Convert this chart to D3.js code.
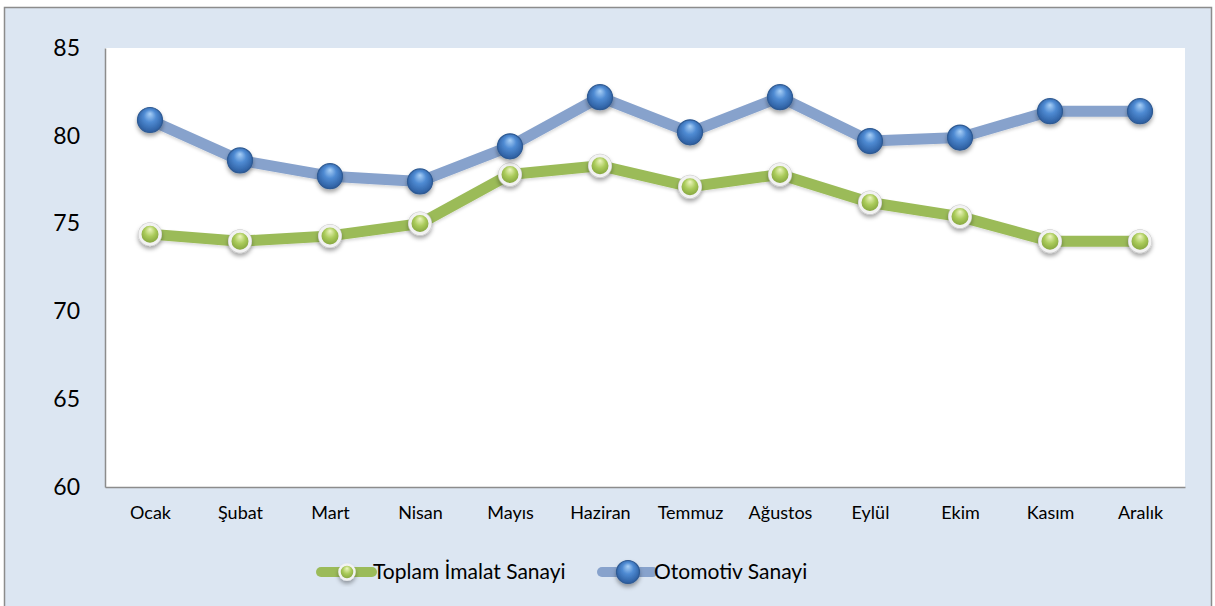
<!DOCTYPE html>
<html>
<head>
<meta charset="utf-8">
<script src="https://cdn.jsdelivr.net/npm/d3@7"></script>
<style>
  body { margin: 0; background: #ffffff; }
  svg { display: block; font-family: Lato, "Open Sans", sans-serif; }
</style>
</head>
<body>
<svg></svg>
<script>
var months = ["Ocak", "Şubat", "Mart", "Nisan", "Mayıs", "Haziran",
  "Temmuz", "Ağustos", "Eylül", "Ekim", "Kasım", "Aralık"];
var toplamImalat = [74.4, 74.0, 74.3, 75.0, 77.8, 78.3, 77.1, 77.8, 76.2, 75.4, 74.0, 74.0];
var otomotiv = [80.9, 78.6, 77.7, 77.4, 79.4, 82.2, 80.2, 82.2, 79.7, 79.9, 81.4, 81.4];
var yTicks = [60, 65, 70, 75, 80, 85];
var seriesNames = ["Toplam İmalat Sanayi", "Otomotiv Sanayi"];

var width = 1215;
var height = 606;
var plot = { left: 105, right: 1185, top: 48, bottom: 487 };

var svg = d3.select("svg").attr("width", width).attr("height", height);

// defs: gradients + shadow
var defs = svg.append("defs");

var blueGrad = defs.append("radialGradient")
  .attr("id", "blueBall").attr("cx", "50%").attr("cy", "45%").attr("r", "55%")
  .attr("fx", "50%").attr("fy", "25%");
blueGrad.append("stop").attr("offset", "0%").attr("stop-color", "#a9d0f7");
blueGrad.append("stop").attr("offset", "45%").attr("stop-color", "#4f8bd3");
blueGrad.append("stop").attr("offset", "100%").attr("stop-color", "#2b5c9e");

var greenGrad = defs.append("radialGradient")
  .attr("id", "greenBall").attr("cx", "50%").attr("cy", "45%").attr("r", "55%")
  .attr("fx", "50%").attr("fy", "25%");
greenGrad.append("stop").attr("offset", "0%").attr("stop-color", "#eef6c0");
greenGrad.append("stop").attr("offset", "50%").attr("stop-color", "#aacb5a");
greenGrad.append("stop").attr("offset", "100%").attr("stop-color", "#7f9f3a");

var shadow = defs.append("filter").attr("id", "shadow")
  .attr("x", "-50%").attr("y", "-50%").attr("width", "200%").attr("height", "200%");
shadow.append("feDropShadow").attr("dx", 0).attr("dy", 3).attr("stdDeviation", 2)
  .attr("flood-color", "#000").attr("flood-opacity", 0.35);

var lineShadow = defs.append("filter").attr("id", "lineShadow")
  .attr("x", "-10%").attr("y", "-50%").attr("width", "120%").attr("height", "200%");
lineShadow.append("feDropShadow").attr("dx", 0).attr("dy", 2).attr("stdDeviation", 1.5)
  .attr("flood-color", "#000").attr("flood-opacity", 0.15);

// chart background
svg.append("rect")
  .attr("x", 4.5).attr("y", 7.5).attr("width", 1207).attr("height", 610)
  .attr("fill", "#dce6f2").attr("stroke", "#8c8c8c").attr("stroke-width", 1.5);

svg.append("rect")
  .attr("x", plot.left).attr("y", plot.top)
  .attr("width", plot.right - plot.left).attr("height", plot.bottom - plot.top)
  .attr("fill", "#ffffff");

var xScale = d3.scalePoint().domain(months).range([plot.left, plot.right]).padding(0.5);
var yScale = d3.scaleLinear().domain([60, 85]).range([plot.bottom, plot.top]);

// axes
var yAxis = d3.axisLeft(yScale).tickValues(yTicks).tickSize(0).tickPadding(25);
var gy = svg.append("g").attr("transform", "translate(" + plot.left + ",0)").call(yAxis);
gy.select(".domain").attr("stroke", "#8c8c8c").attr("stroke-width", 1.5);
gy.selectAll("text").attr("font-size", 23).attr("fill", "#000")
  .attr("font-family", "Lato, sans-serif");

var xAxis = d3.axisBottom(xScale).tickSize(0).tickPadding(19);
var gx = svg.append("g").attr("transform", "translate(0," + plot.bottom + ")").call(xAxis);
gx.select(".domain").attr("stroke", "#8c8c8c").attr("stroke-width", 1.5);
gx.selectAll("text").attr("font-size", 18).attr("fill", "#000")
  .attr("font-family", "Lato, sans-serif");

var line = d3.line()
  .x(function (d, i) { return xScale(months[i]); })
  .y(function (d) { return yScale(d); });

var series = [
  { name: seriesNames[0], values: toplamImalat, color: "#9bbb59", ball: "url(#greenBall)",
    r: 10, stroke: "#f2f2f2", sw: 3 },
  { name: seriesNames[1], values: otomotiv, color: "#87a2cc", ball: "url(#blueBall)",
    r: 12.5, stroke: "#2e5a93", sw: 1.2 }
];

series.forEach(function (s) {
  svg.append("path")
    .datum(s.values)
    .attr("d", line)
    .attr("fill", "none")
    .attr("stroke", s.color)
    .attr("stroke-width", 11)
    .attr("stroke-linejoin", "round")
    .attr("filter", "url(#lineShadow)");
});

series.forEach(function (s, k) {
  var g = svg.append("g");
  if (k === 0) {
    // faint grey rim around the white ring
    g.selectAll("circle.rim")
      .data(s.values)
      .enter()
      .append("circle")
      .attr("class", "rim")
      .attr("cx", function (d, i) { return xScale(months[i]); })
      .attr("cy", function (d) { return yScale(d); })
      .attr("r", s.r + 2)
      .attr("fill", "#c8c8c8")
      .attr("filter", "url(#shadow)");
  }
  g.selectAll("circle.ball")
    .data(s.values)
    .enter()
    .append("circle")
    .attr("class", "ball")
    .attr("cx", function (d, i) { return xScale(months[i]); })
    .attr("cy", function (d) { return yScale(d); })
    .attr("r", s.r)
    .attr("fill", s.ball)
    .attr("stroke", s.stroke)
    .attr("stroke-width", s.sw)
    .attr("filter", k === 0 ? null : "url(#shadow)");
});

// legend
var legendX = [321, 602];
var legend = svg.append("g");
series.forEach(function (s, i) {
  var g = legend.append("g").attr("transform", "translate(" + legendX[i] + ",572)");
  g.append("line")
    .attr("x1", 0).attr("x2", 51).attr("y1", 0).attr("y2", 0)
    .attr("stroke", s.color).attr("stroke-width", 10).attr("stroke-linecap", "round");
  g.append("circle")
    .attr("cx", 26).attr("cy", 0)
    .attr("r", i === 0 ? 7.5 : 11.5)
    .attr("fill", s.ball)
    .attr("stroke", s.stroke)
    .attr("stroke-width", i === 0 ? 2.5 : 1.2)
    .attr("filter", "url(#shadow)");
  g.append("text")
    .attr("x", 52).attr("y", 0).attr("dy", "0.35em")
    .attr("font-size", 21).attr("fill", "#000")
    .text(s.name);
});
</script>
</body>
</html>
